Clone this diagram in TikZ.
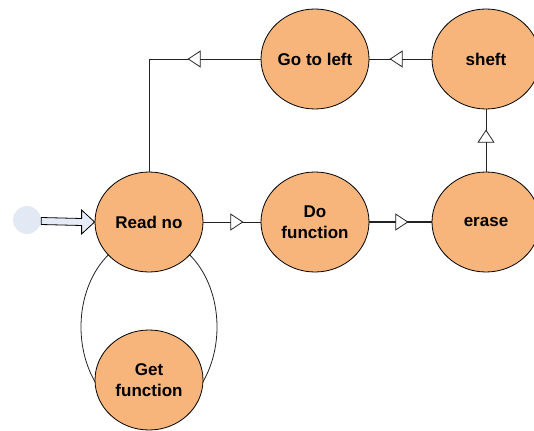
\documentclass[tikz,border=0pt]{standalone}
\usepackage{fontspec}
\setmainfont{Liberation Sans}
\usetikzlibrary{shapes.geometric,arrows.meta,decorations.markings,calc}
\definecolor{stfill}{HTML}{F7B57C}
\definecolor{startfill}{HTML}{E3E9F4}
\definecolor{blockfill}{HTML}{E6ECF7}
\definecolor{linec}{HTML}{222222}
\tikzset{
  state/.style={ellipse, draw=black, line width=0.8pt, fill=stfill,
    minimum width=108pt, minimum height=100pt, inner sep=0pt, align=center,
    font=\fontsize{17}{21}\selectfont\bfseries},
  conn/.style={draw=linec, line width=0.8pt},
  midtri/.style={postaction={decorate}, decoration={markings,
    mark=at position #1 with {\arrow{Triangle[open, length=13pt, width=17pt, line width=0.8pt, fill=white]}}}}
}
\begin{document}
\begin{tikzpicture}[x=1pt,y=-1pt]
\useasboundingbox (0,0) rectangle (534,430);
% self loop behind nodes
\draw[conn] (149,327) ellipse [x radius=68, y radius=90];
\node[state] (readno) at (149,222) {Read no};
\node[state] (dofn) at (315,222) {Do\\function};
\node[state] (erase) at (486,222) {erase};
\node[state] (goleft) at (315,59) {Go to left};
\node[state] (sheft) at (486,59) {sheft};
\node[state] (getfn) at (149,380) {Get\\function};
\node[circle, fill=startfill, minimum size=28pt, inner sep=0pt] (start) at (27,220) {};
\coordinate (corner) at (149,59);
% connectors
\draw[conn, midtri=40pt] (readno.east) -- (dofn.west);
\draw[conn, line width=1.1pt, midtri=39pt] (dofn.east) -- (erase.west);
\draw[conn, midtri=42pt] (erase.north) -- (sheft.south);
\draw[conn, midtri=42pt] (sheft.west) -- (goleft.east);
\draw[conn, midtri=73pt] (goleft.west) -- (corner) -- (readno.north);
% block arrow from start
\draw[line width=0.8pt, fill=blockfill]
  ($(start.east)+(0,-2.5)$) -- ($(readno.west)+(-13,-3.5)$) -- ($(readno.west)+(-13,-12)$)
  -- (readno.west) -- ($(readno.west)+(-13,12)$) -- ($(readno.west)+(-13,3.5)$)
  -- ($(start.east)+(0,4.5)$) -- cycle;
\end{tikzpicture}
\end{document}
